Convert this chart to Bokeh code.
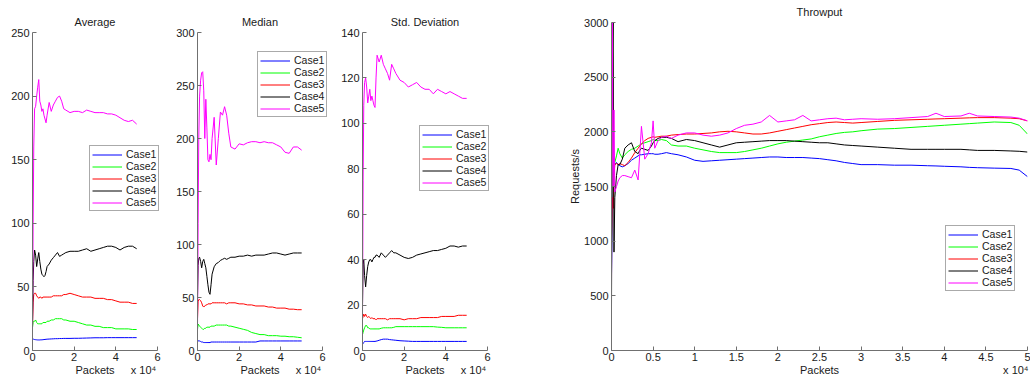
from bokeh.plotting import figure
from bokeh.layouts import row
from bokeh.models import Range1d, FixedTicker, Legend, LegendItem, LinearAxis, Label
from bokeh.embed import file_html
from bokeh.resources import INLINE

CASES = ["Case1", "Case2", "Case3", "Case4", "Case5"]
COLORS = ["#0000ff", "#00ff00", "#ff0000", "#000000", "#ff00ff"]

X_STAT = [0, 300, 600, 1000, 1500, 2000, 2500, 3000, 3500, 4000, 4500, 5000, 5500, 6000, 6500, 7000,
          8000, 9000, 10000, 11000, 12000, 13000, 14000, 15000, 16000,
          18000, 20000, 22000, 24000, 26000, 28000, 30000, 32000, 34000, 36000, 38000, 40000, 42000, 44000, 46000, 48000, 50000]

AVG_CASE1 = [9.5, 9.0, 8.8, 8.6, 8.5, 8.4, 8.3, 8.3, 8.3, 8.4, 8.4, 8.5, 8.6, 8.7, 8.8, 8.9,
             9.0, 9.1, 9.2, 9.3, 9.3, 9.4, 9.4, 9.5, 9.5,
             9.5, 9.6, 9.6, 9.7, 9.8, 9.9, 10.0, 10.0, 10.0, 10.1, 10.1, 10.1, 10.1, 10.1, 10.1, 10.1, 10.1]
AVG_CASE2 = [18, 22, 23, 23, 24, 22, 21, 21, 21, 21, 21, 22, 22, 22, 22, 23,
             23, 24, 24, 25, 25, 25, 25, 24, 24,
             23, 23, 22, 21, 20, 20, 19, 19, 18, 18, 18, 17, 17, 17, 17, 16.5, 16.5]
AVG_CASE3 = [20, 38, 44, 45, 45, 43, 42, 41, 42, 42, 41, 42, 42, 42, 42, 42,
             42, 42, 43, 43, 43, 43, 43, 44, 44,
             45, 44, 43, 42, 42, 42, 41, 41, 41, 40, 40, 39, 38, 38, 38, 37, 37]
AVG_CASE4 = [20, 55, 70, 79, 75, 66, 72, 77, 70, 64, 60, 59, 58, 59, 62, 66,
             68, 71, 73, 75, 77, 74, 75, 76, 77,
             78, 78, 78, 79, 80, 78, 79, 80, 81, 82, 82, 81, 79, 81, 82, 82, 80]
AVG_CASE5 = [15, 100, 160, 190, 192, 200, 207, 213, 196, 193, 188, 190, 185, 182, 179, 185,
             195, 188, 193, 196, 199, 200, 196, 190, 189,
             187, 188, 188, 187, 189, 188, 187, 187, 187, 186, 186, 185, 183, 181, 180, 181, 178]

MED_CASE1 = [10, 9, 9, 9, 8.5, 8, 8, 7.5, 7.5, 7.5, 7.5, 7.5, 7.5, 7.5, 8, 8,
             8, 8, 8, 8, 8, 8, 8, 8, 8,
             8, 8, 8, 8, 8, 8, 9, 9, 9, 9, 9, 9, 9, 9, 9, 9, 9]
MED_CASE2 = [20, 25, 24, 23, 22, 21, 20, 20, 21, 21, 22, 22, 22, 22, 23, 23,
             23, 24, 24, 24, 24, 24, 24, 23, 23,
             22, 21, 20, 19, 17, 16, 15, 15, 14, 14, 14, 13.5, 13.5, 13, 13, 12.5, 12]
MED_CASE3 = [30, 46, 48, 48, 47, 45, 42, 41, 42, 43, 43, 44, 44, 44, 44, 45,
             45, 45, 45, 45, 45, 45, 44, 45, 45,
             45, 44, 44, 43, 43, 42, 42, 42, 41, 41, 40, 40, 40, 39, 39, 38.5, 38.5]
MED_CASE4 = [50, 80, 87, 88, 84, 78, 84, 86, 82, 78, 70, 62, 55, 53, 62, 72,
             79, 82, 83, 85, 86, 87, 86, 87, 88,
             88, 89, 89, 90, 89, 90, 90, 90, 91, 92, 92, 91, 90, 91, 92, 92, 92]
MED_CASE5 = [20, 120, 200, 240, 255, 262, 263, 245, 200, 237, 210, 180, 178, 185, 180, 200,
             220, 175, 200, 225, 222, 230, 222, 205, 192,
             190, 195, 194, 196, 197, 197, 196, 197, 196, 196, 194, 192, 187, 186, 192, 192, 189]

STD_CASE1 = [3, 3, 3.5, 4, 4, 4, 4, 4, 4, 4, 4, 4, 4, 4, 4.1, 4.2,
             4.5, 4.8, 5, 5, 5, 4.8, 4.7, 4.6, 4.5,
             4.3, 4.2, 4.1, 4, 4, 4, 4, 4, 4, 4, 4, 4, 4, 4, 4, 4, 4]
STD_CASE2 = [7, 8, 9, 10, 11, 11, 10, 10, 9.5, 9.5, 9.5, 9.5, 9.5, 9.5, 9.5, 9.5,
             9.5, 9.8, 10, 10, 10, 10, 10, 10.2, 10.5,
             10.5, 10.5, 10.5, 10.5, 10.5, 10.5, 10.5, 10.5, 10.5, 10.3, 10.2, 10, 10, 10, 10, 10, 10]
STD_CASE3 = [14, 15, 16, 15, 16, 15, 14.5, 15, 14.5, 14, 14.5, 14, 14, 14, 13.5, 14,
             14, 14, 14, 14, 13.5, 14, 14, 14, 14,
             14, 13.5, 14, 14, 14, 14.5, 14.5, 14.5, 14.5, 14.5, 15, 15, 15, 15, 15.5, 15.5, 15.5]
STD_CASE4 = [20, 38, 40, 33, 28, 33, 37, 39, 40, 40, 39, 40, 41, 41, 42, 42,
             41, 43, 42, 41, 42, 43, 44, 43, 43,
             42, 41, 40.5, 41, 42, 42.5, 43, 43.5, 44, 44, 44.5, 45, 46, 46, 45.5, 46, 46]
STD_CASE5 = [15, 75, 108, 118, 120, 116, 109, 112, 115, 110, 112, 110, 108, 107, 120, 130,
             127, 130, 126, 124, 122, 119, 126, 124, 122,
             119, 118, 116, 117, 118, 116, 115, 115, 113, 115, 114, 113, 114, 113, 112, 111, 111]

X_THR = [0, 100, 200, 300, 400, 600, 800, 1000, 1300, 1600,
         2000, 2400, 2800, 3200, 3400, 3600, 4000, 4400, 4800, 5000,
         5200, 5600, 6000, 6600, 7200, 8000, 9000, 10000, 11000, 12000,
         13000, 14000, 15000, 16000, 17000, 18000, 19000, 20000, 21000, 22000,
         23000, 24000, 25000, 26000, 27000, 28000, 29000, 30000, 32000, 34000,
         36000, 38000, 39000, 40000, 42000, 43000, 44000, 46000, 48000, 49000,
         50000]
THR_CASE1 = [700, 1300, 1600, 1750, 1700, 1720, 1700, 1690, 1680, 1690,
             1710, 1740, 1760, 1780, 1790, 1790, 1795, 1800, 1800, 1800,
             1795, 1795, 1800, 1810, 1800, 1790, 1770, 1740, 1730, 1735,
             1740, 1745, 1750, 1755, 1760, 1765, 1770, 1770, 1765, 1765,
             1765, 1760, 1755, 1745, 1735, 1720, 1710, 1700, 1700, 1695,
             1695, 1690, 1688, 1685, 1680, 1675, 1672, 1668, 1665, 1650,
             1590]
THR_CASE2 = [900, 1500, 1700, 1650, 1720, 1780, 1850, 1800, 1760, 1790,
             1820, 1840, 1850, 1870, 1880, 1890, 1900, 1910, 1920, 1930,
             1920, 1920, 1930, 1920, 1880, 1870, 1870, 1850, 1835, 1820,
             1810, 1810, 1810, 1820, 1835, 1850, 1870, 1890, 1905, 1915,
             1925, 1935, 1955, 1970, 1985, 1995, 2000, 2010, 2025, 2030,
             2040, 2050, 2055, 2060, 2070, 2075, 2080, 2090, 2085, 2060,
             1980]
THR_CASE3 = [1000, 1400, 1300, 1600, 1700, 1710, 1700, 1710, 1700, 1690,
             1720, 1760, 1810, 1850, 1870, 1890, 1920, 1940, 1950, 1955,
             1950, 1955, 1960, 1960, 1970, 1975, 1980, 1980, 1985, 1990,
             2000, 2005, 2000, 1990, 1980, 1980, 1990, 2005, 2020, 2035,
             2050, 2065, 2075, 2085, 2090, 2085, 2080, 2085, 2095, 2105,
             2110, 2115, 2118, 2120, 2125, 2128, 2130, 2130, 2125, 2120,
             2100]
THR_CASE4 = [400, 2700, 3000, 900, 1400, 1600, 1700, 1700, 1750, 1850,
             1880, 1900, 1820, 1800, 1830, 1850, 1840, 1830, 1870, 1900,
             1920, 1940, 1950, 1950, 1940, 1910, 1930, 1920, 1900, 1880,
             1860, 1880, 1900, 1905, 1910, 1915, 1920, 1920, 1920, 1915,
             1910, 1905, 1900, 1900, 1890, 1880, 1875, 1870, 1860, 1850,
             1840, 1840, 1840, 1840, 1840, 1835, 1830, 1830, 1825, 1822,
             1815]
THR_CASE5 = [600, 3000, 1500, 2200, 1450, 1500, 1550, 1580, 1600, 1600,
             1590, 1580, 1650, 1560, 1800, 2050, 1750, 1800, 1900, 2100,
             1850, 1920, 1950, 1960, 1940, 1970, 1990, 1990, 1970, 1960,
             1970, 1990, 2030, 2060, 2070, 2090, 2150, 2090, 2100, 2110,
             2150, 2100, 2110, 2120, 2125, 2110, 2115, 2120, 2115, 2120,
             2130, 2140, 2170, 2140, 2145, 2170, 2145, 2140, 2135, 2125,
             2100]

SMALL_XTICKS = {0: "0", 20000: "2", 40000: "4", 60000: "6"}
THR_XTICKS = {0: "0", 5000: "0.5", 10000: "1", 15000: "1.5", 20000: "2", 25000: "2.5",
              30000: "3", 35000: "3.5", 40000: "4", 45000: "4.5", 50000: "5"}
SMALL_XLABELS = {30000: "Packets", 53300: "x 10\u2074"}
THR_XLABELS = {25000: "Packets", 48600: "x 10\u2074"}

FONT = "Liberation Sans"
AXIS_COLOR = "#707070"
TEXT_COLOR = "#1a1a1a"

FRAME_TOP = 2       # canvas px where every frame starts
FRAME_BOTTOM = 350  # canvas px where every frame ends
TITLE_GAP = 11      # px between axis top and title centre


def make_panel(title, xs, series, xaxis_end, xrange_end, xticks, xlabels, yend, ystep,
               fw, bl, br, axis_top, legend_loc, ylabel=None):
    fh = FRAME_BOTTOM - FRAME_TOP
    axis_px = FRAME_BOTTOM - axis_top
    per_px = yend / axis_px
    p = figure(frame_width=fw, frame_height=fh, min_border_left=bl, min_border_right=br,
               min_border_top=FRAME_TOP, min_border_bottom=381 - FRAME_BOTTOM,
               output_backend="svg", toolbar_location=None,
               x_range=Range1d(0, xrange_end), y_range=Range1d(0, fh * per_px))
    p.title = None
    p.outline_line_color = None
    p.grid.visible = False
    p.background_fill_color = "white"
    p.border_fill_color = "white"
    items = []
    for name, color, ys in zip(CASES, COLORS, series):
        r = p.line(xs, ys, line_color=color, line_width=1)
        items.append(LegendItem(label=name, renderers=[r]))
    p.xaxis.ticker = FixedTicker(ticks=list(xticks.keys()))
    p.xaxis.major_label_overrides = xticks
    p.xaxis.bounds = (0, xaxis_end)
    p.yaxis.ticker = FixedTicker(ticks=list(range(0, yend + 1, ystep)))
    p.yaxis.bounds = (0, yend)
    for ax in [p.xaxis[0], p.yaxis[0]]:
        ax.axis_line_color = AXIS_COLOR
        ax.major_tick_line_color = AXIS_COLOR
        ax.major_tick_in = 4
        ax.major_tick_out = 0
        ax.minor_tick_in = 0
        ax.minor_tick_out = 0
        ax.major_label_text_font = FONT
        ax.major_label_text_font_size = "11px"
        ax.major_label_text_color = TEXT_COLOR
        ax.major_label_standoff = 3
        ax.axis_label_text_font = FONT
        ax.axis_label_text_font_size = "11px"
        ax.axis_label_text_font_style = "normal"
        ax.axis_label_text_color = TEXT_COLOR
        ax.axis_label_standoff = 0
    p.xaxis.major_label_standoff = 2
    if ylabel:
        p.yaxis.axis_label = ylabel
    lab = LinearAxis(ticker=FixedTicker(ticks=list(xlabels.keys())),
                     major_label_overrides=xlabels)
    lab.axis_line_color = None
    lab.major_tick_line_color = None
    lab.minor_tick_line_color = None
    lab.major_tick_in = 0
    lab.major_tick_out = 0
    lab.minor_tick_in = 0
    lab.minor_tick_out = 0
    lab.major_label_standoff = 0
    lab.major_label_text_font = FONT
    lab.major_label_text_font_size = "11px"
    lab.major_label_text_color = TEXT_COLOR
    p.add_layout(lab, "below")
    p.add_layout(Label(x=xaxis_end / 2, y=yend + TITLE_GAP * per_px, text=title,
                       text_align="center", text_baseline="middle", text_font=FONT,
                       text_font_size="11px", text_color=TEXT_COLOR))
    leg = Legend(items=items, location=legend_loc)
    leg.label_text_font = FONT
    leg.label_text_font_size = "10.5px"
    leg.label_text_color = TEXT_COLOR
    leg.glyph_width = 30
    leg.glyph_height = 11
    leg.label_height = 11
    leg.spacing = 0
    leg.padding = 2
    leg.margin = 0
    leg.label_standoff = 4
    leg.border_line_color = "#555555"
    leg.border_line_width = 1
    leg.background_fill_color = "white"
    leg.background_fill_alpha = 1
    p.add_layout(leg)
    return p


p1 = make_panel("Average", X_STAT, [AVG_CASE1, AVG_CASE2, AVG_CASE3, AVG_CASE4, AVG_CASE5],
                60000, 65760, SMALL_XTICKS, SMALL_XLABELS, 250, 50,
                137, 32, 1, 32, (57, 139))
p2 = make_panel("Median", X_STAT, [MED_CASE1, MED_CASE2, MED_CASE3, MED_CASE4, MED_CASE5],
                60000, 65760, SMALL_XTICKS, SMALL_XLABELS, 300, 50,
                137, 27, 1, 32, (60, 233))
p3 = make_panel("Std. Deviation", X_STAT, [STD_CASE1, STD_CASE2, STD_CASE3, STD_CASE4, STD_CASE5],
                60000, 65760, SMALL_XTICKS, SMALL_XLABELS, 140, 20,
                137, 27, 41, 32, (57, 159))
p4 = make_panel("Throwput", X_THR, [THR_CASE1, THR_CASE2, THR_CASE3, THR_CASE4, THR_CASE5],
                50000, 50000, THR_XTICKS, THR_XLABELS, 3000, 500,
                416, 71, 3, 22, (334, 59), ylabel="Requests/s")

layout = row(p1, p2, p3, p4)
open("out.html", "w").write(file_html(layout, INLINE))
